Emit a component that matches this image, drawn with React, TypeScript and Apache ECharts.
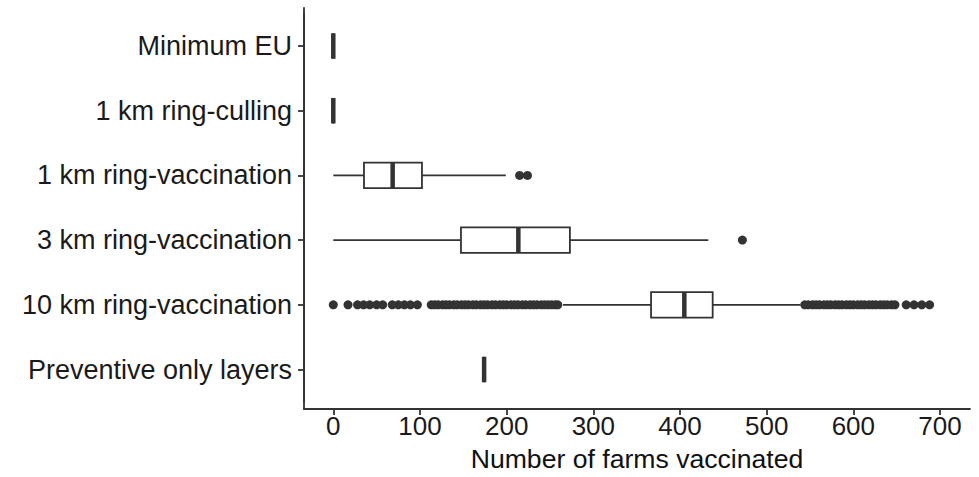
import React, { useEffect, useRef } from "react";
import * as echarts from "echarts";

const categories = [
  "Minimum EU",
  "1 km ring-culling",
  "1 km ring-vaccination",
  "3 km ring-vaccination",
  "10 km ring-vaccination",
  "Preventive only layers",
];

// [min whisker, Q1, median, Q3, max whisker]
const minimumEU = [0, 0, 0, 0, 0];
const ringCulling1 = [0, 0, 0, 0, 0];
const ringVacc1 = [0, 35.4, 68.5, 102.3, 199];
const ringVacc3 = [0, 147.3, 213.5, 273, 432.7];
const ringVacc10 = [265, 366.6, 405, 437.7, 539];
const preventive = [174, 174, 174, 174, 174];

const outliersVacc1 = [215, 224];
const outliersVacc3 = [472];
const outliersVacc10 = [
  0, 17, 28, 35, 42, 50, 57, 68, 75, 82, 89, 97,
  113, 117, 121, 126, 130, 134, 139, 143, 148, 152, 156, 161, 165, 170, 174, 178,
  183, 187, 192, 196, 200, 205, 209, 213, 218, 222, 227, 231, 235, 240, 244, 248,
  252, 256, 259,
  544, 548, 553, 557, 561, 566, 570, 574, 579, 583, 587, 592, 596, 600, 605, 609,
  613, 618, 622, 626, 631, 635, 639, 644, 648,
  661, 670, 679, 688,
];

const xTicks = [0, 100, 200, 300, 400, 500, 600, 700];
const xMin = -33.8;
const xMax = 734.6;

const boxStats = [minimumEU, ringCulling1, ringVacc1, ringVacc3, ringVacc10, preventive];
const outlierSets: [number, number[]][] = [
  [2, outliersVacc1],
  [3, outliersVacc3],
  [4, outliersVacc10],
];

const INK = "#333333";
const FONT = "Liberation Sans";

export default function App() {
  const ref = useRef<HTMLDivElement>(null);
  useEffect(() => {
    if (!ref.current) return;
    const chart = echarts.init(ref.current, null, { renderer: "svg" });
    const boxData = boxStats.map((s, i) => [i, ...s]);
    const outlierData: number[][] = [];
    outlierSets.forEach(([ci, vals]) => vals.forEach((v) => outlierData.push([v, ci])));
    const boxH = 25.5;
    chart.setOption({
      animation: false,
      backgroundColor: "#ffffff",
      grid: [
        // data panel
        { left: 304, right: 9, top: 13.65, bottom: 75.15, containLabel: false },
        // axis frame panel (full extent of axis lines)
        { left: 304, right: 9, top: 8, bottom: 67, containLabel: false },
      ],
      xAxis: [
        {
          type: "value",
          gridIndex: 0,
          min: xMin,
          max: xMax,
          show: false,
          splitLine: { show: false },
        },
        {
          type: "value",
          gridIndex: 1,
          min: xMin,
          max: xMax,
          name: "Number of farms vaccinated",
          nameLocation: "middle",
          nameGap: 36,
          nameTextStyle: { fontFamily: FONT, fontSize: 26.6, color: "#111" },
          axisLine: { show: true, onZero: false, lineStyle: { color: INK, width: 1.8 } },
          axisTick: { show: true, length: 6, lineStyle: { color: INK, width: 1.8 }, customValues: xTicks },
          axisLabel: {
            fontFamily: FONT,
            fontSize: 26,
            color: "#1a1a1a",
            margin: 4,
            customValues: xTicks,
          },
          splitLine: { show: false },
        },
      ],
      yAxis: [
        {
          type: "category",
          gridIndex: 0,
          data: categories,
          inverse: true,
          axisLine: { show: true, onZero: false, lineStyle: { color: INK, width: 1.8 } },
          axisTick: { show: true, alignWithLabel: true, length: 6, lineStyle: { color: INK, width: 1.8 } },
          axisLabel: { fontFamily: FONT, fontSize: 27, color: "#1a1a1a", margin: 12 },
          splitLine: { show: false },
        },
        {
          type: "value",
          gridIndex: 1,
          min: 0,
          max: 1,
          axisLine: { show: true, onZero: false, lineStyle: { color: INK, width: 1.8 } },
          axisTick: { show: false },
          axisLabel: { show: false },
          splitLine: { show: false },
        },
      ],
      series: [
        {
          type: "scatter",
          xAxisIndex: 0,
          yAxisIndex: 0,
          data: outlierData,
          symbol: "circle",
          symbolSize: 9,
          itemStyle: { color: "#333333", opacity: 1 },
          z: 2,
        },
        {
          type: "custom",
          xAxisIndex: 0,
          yAxisIndex: 0,
          data: boxData,
          encode: { x: [1, 2, 3, 4, 5], y: 0 },
          z: 3,
          renderItem: (params: any, api: any) => {
            const cat = api.value(0);
            const lo = api.coord([api.value(1), cat]);
            const q1 = api.coord([api.value(2), cat]);
            const med = api.coord([api.value(3), cat]);
            const q3 = api.coord([api.value(4), cat]);
            const hi = api.coord([api.value(5), cat]);
            const y = med[1];
            return {
              type: "group",
              children: [
                { type: "line", shape: { x1: lo[0], y1: y, x2: q1[0], y2: y }, style: { stroke: INK, lineWidth: 1.8 } },
                { type: "line", shape: { x1: q3[0], y1: y, x2: hi[0], y2: y }, style: { stroke: INK, lineWidth: 1.8 } },
                {
                  type: "rect",
                  shape: { x: q1[0], y: y - boxH / 2, width: q3[0] - q1[0], height: boxH },
                  style: { fill: "#ffffff", stroke: INK, lineWidth: 1.8 },
                },
                {
                  type: "line",
                  shape: { x1: med[0], y1: y - boxH / 2, x2: med[0], y2: y + boxH / 2 },
                  style: { stroke: INK, lineWidth: 4.5 },
                },
              ],
            };
          },
        },
      ],
    });
    return () => chart.dispose();
  }, []);
  return (
    <div
      ref={ref}
      style={{ position: "fixed", left: 0, top: 0, width: 979, height: 477, background: "#fff" }}
    />
  );
}
